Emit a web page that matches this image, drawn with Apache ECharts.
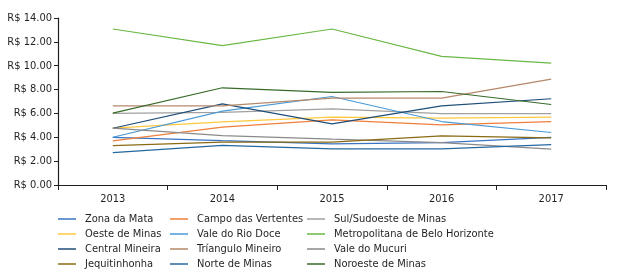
<!DOCTYPE html>
<html>
<head>
<meta charset="utf-8">
<script src="https://cdn.jsdelivr.net/npm/echarts@6/dist/echarts.min.js"></script>
<style>
  html, body { margin: 0; padding: 0; background: #fff; }
  #chart { width: 617px; height: 280px; }
</style>
</head>
<body>
<div id="chart"></div>
<script>
// anos e valores por região (R$)
const years = ['2013', '2014', '2015', '2016', '2017'];

const zonaDaMata = [4.0, 3.72, 3.45, 3.55, 4.0];
const campoDasVertentes = [3.7, 4.85, 5.46, 5.04, 5.32];
const sulSudoeste = [6.0, 6.08, 6.39, 5.99, 5.99];
const oesteDeMinas = [4.76, 5.29, 5.69, 5.6, 5.69];
const valeDoRioDoce = [4.0, 6.19, 7.42, 5.32, 4.4];
const metropolitana = [13.08, 11.68, 13.08, 10.78, 10.22];
const centralMineira = [4.76, 6.8, 5.13, 6.64, 7.23];
const trianguloMineiro = [6.64, 6.64, 7.28, 7.28, 8.88];
const valeDoMucuri = [4.76, 4.14, 3.84, 3.55, 3.0];
const jequitinhonha = [3.3, 3.59, 3.59, 4.12, 3.95];
const norteDeMinas = [2.72, 3.33, 3.03, 3.03, 3.39];
const noroesteDeMinas = [6.02, 8.15, 7.76, 7.84, 6.75];

const font = '"Liberation Sans Narrow", "Arial Narrow", "DejaVu Sans Condensed", sans-serif';
const textColor = '#231f20';

const regions = [
  { name: 'Zona da Mata', data: zonaDaMata, color: '#3a75c4' },
  { name: 'Campo das Vertentes', data: campoDasVertentes, color: '#f07f3a' },
  { name: 'Sul/Sudoeste de Minas', data: sulSudoeste, color: '#a0a0a0' },
  { name: 'Oeste de Minas', data: oesteDeMinas, color: '#ffc83d' },
  { name: 'Vale do Rio Doce', data: valeDoRioDoce, color: '#4a9ad8' },
  { name: 'Metropolitana de Belo Horizonte', data: metropolitana, color: '#6ab845' },
  { name: 'Central Mineira', data: centralMineira, color: '#1f4e79' },
  { name: 'Tríangulo Mineiro', data: trianguloMineiro, color: '#b5886a' },
  { name: 'Vale do Mucuri', data: valeDoMucuri, color: '#8a8a8a' },
  { name: 'Jequitinhonha', data: jequitinhonha, color: '#8a6a12' },
  { name: 'Norte de Minas', data: norteDeMinas, color: '#2468a0' },
  { name: 'Noroeste de Minas', data: noroesteDeMinas, color: '#386b2a' }
];

// legenda em 3 colunas
const legendCol = (names, left) => ({
  orient: 'vertical',
  left: left,
  top: 212,
  height: 68,
  padding: 0,
  itemGap: 1,
  itemWidth: 18,
  itemHeight: 1.5,
  icon: 'rect',
  data: names,
  textStyle: {
    fontFamily: font,
    fontSize: 11,
    color: textColor,
    lineHeight: 14,
    padding: [0, 0, 0, 4]
  }
});
const col = (i) => regions.filter((r, k) => k % 3 === i).map(r => r.name);

const chart = echarts.init(document.getElementById('chart'));
chart.setOption({
  animation: false,
  grid: { left: 58, right: 11, top: 18, bottom: 95 },
  legend: [legendCol(col(0), 58), legendCol(col(1), 170), legendCol(col(2), 307)],
  xAxis: {
    type: 'category',
    data: years,
    boundaryGap: true,
    axisLine: { lineStyle: { color: '#231f20', width: 1.2 } },
    axisTick: { show: true, length: 5, lineStyle: { color: '#231f20' } },
    axisLabel: { fontFamily: font, fontSize: 11, color: textColor, margin: 9 }
  },
  yAxis: {
    type: 'value',
    min: 0,
    max: 14,
    interval: 2,
    axisLine: { show: true, lineStyle: { color: '#231f20', width: 1.2 } },
    axisTick: { show: true, length: 4, lineStyle: { color: '#231f20' } },
    splitLine: { show: false },
    axisLabel: {
      fontFamily: font,
      fontSize: 11,
      color: textColor,
      margin: 6,
      formatter: v => 'R$ ' + v.toFixed(2)
    }
  },
  series: regions.map(r => ({
    name: r.name,
    type: 'line',
    data: r.data,
    symbol: 'none',
    color: r.color,
    lineStyle: { width: 1.2, color: r.color }
  }))
});
</script>
</body>
</html>
